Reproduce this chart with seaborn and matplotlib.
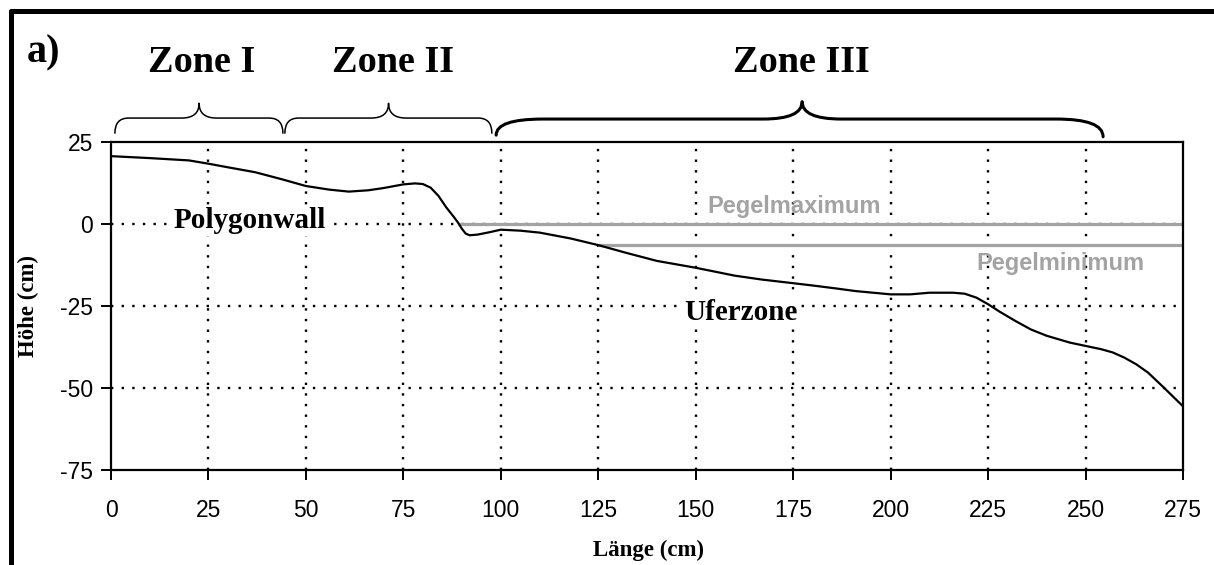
import numpy as np
import pandas as pd
import matplotlib
matplotlib.use("Agg")
import matplotlib.pyplot as plt
from matplotlib.path import Path
from matplotlib.patches import PathPatch
from matplotlib.lines import Line2D
import seaborn as sns

# Profile across the polygon wall: length (cm) vs. height (cm)
laenge = [0, 10, 20, 25, 30, 37, 44, 50, 56, 61, 66, 70, 75, 78, 80, 82,
          84, 86, 88, 89, 90, 91, 92, 94, 97, 100, 105, 110, 118, 125, 132,
          140, 150, 160, 167, 175, 180, 186, 191, 200, 205, 210, 216, 219,
          222, 225, 228, 232, 236, 240, 246, 250, 254, 257, 260, 263, 266,
          270, 275]
hoehe = [20.6, 20.0, 19.3, 18.3, 17.2, 15.7, 13.5, 11.5, 10.4, 9.8, 10.2,
         10.9, 12.0, 12.3, 12.1, 11.0, 8.5, 5.0, 2.0, 0.4, -1.5, -3.0, -3.5,
         -3.3, -2.6, -1.8, -2.1, -2.7, -4.5, -6.5, -8.8, -11.3, -13.4, -15.8,
         -17.0, -18.1, -18.8, -19.7, -20.5, -21.5, -21.5, -21.0, -21.0,
         -21.3, -22.5, -24.5, -26.8, -29.6, -32.2, -34.1, -36.2, -37.2,
         -38.2, -39.2, -40.8, -42.8, -45.3, -49.8, -55.6]

# Water level lines: (label, level, start of line)
pegel_namen = ["Pegelmaximum", "Pegelminimum"]
pegel_werte = [0.0, -6.5]
pegel_start = [89, 125]

# Zones along the profile: (name, start, end, brace tip)
zonen = ["Zone I", "Zone II", "Zone III"]
zonen_start = [1.0, 44.6, 98.8]
zonen_ende = [44.1, 97.7, 254.5]
zonen_mitte = [22.6, 71.2, 177.3]

x_ticks = list(range(0, 276, 25))
y_ticks = [25, 0, -25, -50, -75]

df = pd.DataFrame({"Länge": laenge, "Höhe": hoehe})

sns.set_theme(style="white")
plt.rcParams["font.family"] = ["Liberation Sans", "DejaVu Sans"]
plt.rcParams["axes.unicode_minus"] = False
plt.rcParams["text.color"] = "black"
plt.rcParams["axes.labelcolor"] = "black"

W, H = 1214, 565
fig = plt.figure(figsize=(W / 100, H / 100), dpi=100)
ax = fig.add_axes([111 / W, 1 - 470 / H, 1072 / W, 328.3 / H])

ax.set_xlim(0, 275)
ax.set_ylim(-75, 25)

# dotted grid
dot = dict(color="black", lw=1.7, dashes=(1, 3.5), zorder=1)
for xv in x_ticks[1:-1]:
    ax.axvline(xv, **dot)
for yv in y_ticks[1:-1]:
    ax.axhline(yv, **dot)

# water levels
for name, lvl, x0 in zip(pegel_namen, pegel_werte, pegel_start):
    ax.plot([x0, 275], [lvl, lvl], color="#a3a3a3", lw=2.3, zorder=2,
            solid_capstyle="butt")

sns.lineplot(data=df, x="Länge", y="Höhe", ax=ax, color="black", lw=1.6,
             zorder=3, sort=False)

ax.set_xticks(x_ticks)
ax.set_yticks(y_ticks)
ax.tick_params(axis="both", direction="out", length=7, width=1.4,
               color="black", labelsize=16.5, labelcolor="black",
               bottom=True, left=True)
ax.tick_params(axis="x", pad=14)
ax.tick_params(axis="y", pad=6)
for s in ax.spines.values():
    s.set_visible(True)
    s.set_color("black")
    s.set_linewidth(1.6)

serif = ["Liberation Serif", "DejaVu Serif"]
ax.set_xlabel("Länge (cm)", family=serif, fontweight="bold", fontsize=16.5)
ax.set_ylabel("Höhe (cm)", family=serif, fontweight="bold", fontsize=16.5)
ax.xaxis.set_label_coords(0.501, -0.212)
ax.yaxis.set_label_coords(-0.0676, 0.5)

# annotations inside the plot
box = dict(facecolor="white", edgecolor="none", pad=1.5)
ax.text(35.7, 0.9, "Polygonwall", family=serif, fontweight="bold",
        fontsize=21, ha="center", va="center", bbox=box, zorder=4)
ax.text(161.6, -27.0, "Uferzone", family=serif, fontweight="bold",
        fontsize=21, ha="center", va="center", bbox=box, zorder=4)
ax.text(175.3, 3.4, pegel_namen[0], color="#a3a3a3", fontweight="bold",
        fontsize=17, ha="center", va="baseline", zorder=4)
ax.text(243.5, -14.0, pegel_namen[1], color="#a3a3a3", fontweight="bold",
        fontsize=17, ha="center", va="baseline", zorder=4)


def brace(x0, x1, xp, y_end_l, y_end_r, y_mid, y_top, r_l, r_r, r_c, lw):
    verts = [(x0, y_end_l), (x0, y_mid), (x0 + r_l, y_mid),
             (xp - r_c, y_mid),
             (xp, y_mid), (xp, y_top),
             (xp, y_mid), (xp + r_c, y_mid),
             (x1 - r_r, y_mid),
             (x1, y_mid), (x1, y_end_r)]
    codes = [Path.MOVETO, Path.CURVE3, Path.CURVE3, Path.LINETO,
             Path.CURVE3, Path.CURVE3, Path.CURVE3, Path.CURVE3,
             Path.LINETO, Path.CURVE3, Path.CURVE3]
    patch = PathPatch(Path(verts, codes), facecolor="none",
                      edgecolor="black", lw=lw, clip_on=False,
                      capstyle="round", joinstyle="round")
    ax.add_patch(patch)


brace(zonen_start[0], zonen_ende[0], zonen_mitte[0], 27.6, 27.6, 32.2,
      36.7, 3.5, 3.5, 4.5, 1.1)
brace(zonen_start[1], zonen_ende[1], zonen_mitte[1], 27.6, 27.6, 32.2,
      36.7, 3.5, 3.5, 4.5, 1.1)
brace(zonen_start[2], zonen_ende[2], zonen_mitte[2], 27.0, 26.5, 31.9,
      37.2, 12, 12, 10, 2.2)

# zone titles above the braces
for name, xc in zip(zonen, [202, 393, 801.6]):
    fig.text(xc / W, 1 - 72 / H, name, family=serif, fontweight="bold",
             fontsize=27.5, ha="center", va="baseline")

fig.text(27 / W, 1 - 62 / H, "a)", family=serif, fontweight="bold",
         fontsize=29, ha="left", va="baseline")

# frame of the panel
fig.add_artist(Line2D([11 / W, 1.0], [1 - 11 / H, 1 - 11 / H],
                      transform=fig.transFigure, color="black", lw=3.6))
fig.add_artist(Line2D([11 / W, 11 / W], [0.0, 1 - 11 / H],
                      transform=fig.transFigure, color="black", lw=3.6))

fig.savefig("out.png", dpi=100, facecolor="white")
